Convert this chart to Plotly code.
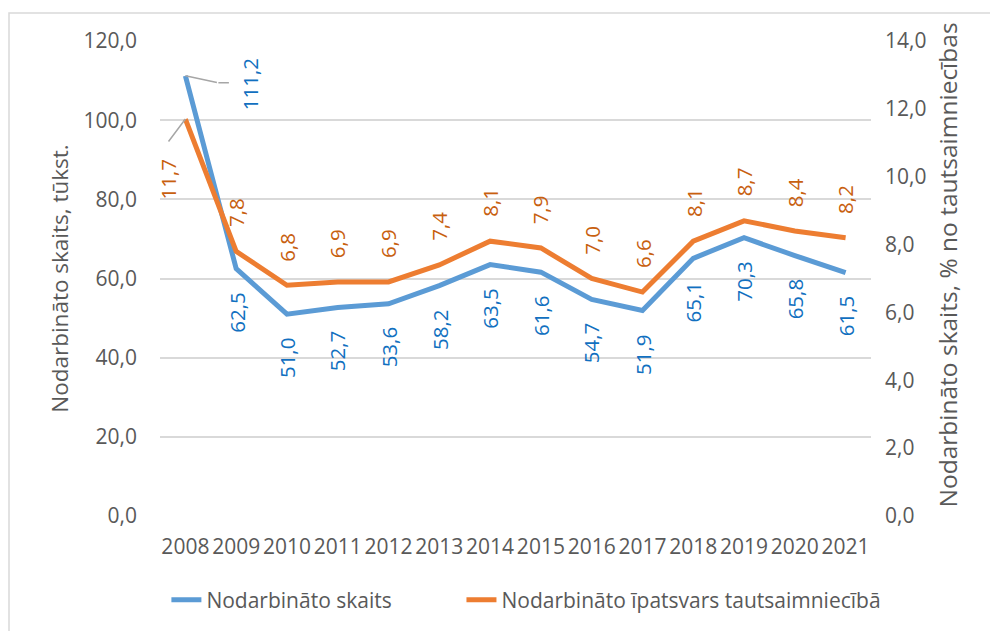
import plotly.graph_objects as go

years = ['2008', '2009', '2010', '2011', '2012', '2013', '2014',
         '2015', '2016', '2017', '2018', '2019', '2020', '2021']
employed = [111.2, 62.5, 51.0, 52.7, 53.6, 58.2, 63.5, 61.6, 54.7, 51.9, 65.1, 70.3, 65.8, 61.5]
share = [11.7, 7.8, 6.8, 6.9, 6.9, 7.4, 8.1, 7.9, 7.0, 6.6, 8.1, 8.7, 8.4, 8.2]

BLUE = '#5B9BD5'
ORANGE = '#ED7D31'
BLUE_TXT = '#1170C0'
ORANGE_TXT = '#C8600F'
GREY = '#595959'
LEADER = '#A6A6A6'
FONT = 'Open Sans'
LBL = 20.5

# page body adds an 8px offset, so the plot box is placed 8px up/left
L, T, W, H = 152, 33, 711, 475


def fmt(v):
    return f"{v:.1f}".replace('.', ',')


def leader(i, v, yref, ax, ay, xs=0, ys=0):
    fig.add_annotation(x=i, y=v, yref=yref, text='', showarrow=True, ax=ax, ay=ay,
                       xshift=xs, yshift=ys, arrowhead=0, arrowwidth=1.5,
                       arrowcolor=LEADER, standoff=0, startstandoff=0)


fig = go.Figure()
fig.add_trace(go.Scatter(x=years, y=employed, mode='lines', name='Nodarbināto skaits',
                         line=dict(color=BLUE, width=5), legend='legend'))
fig.add_trace(go.Scatter(x=years, y=share, mode='lines', name='Nodarbināto īpatsvars tautsaimniecībā',
                         line=dict(color=ORANGE, width=5), yaxis='y2', legend='legend2'))

# data labels, rotated like in the original (x given as category index)
for i, v in enumerate(employed):
    if i == 0:
        leader(i, v, 'y', 33, 7)
        leader(i, v, 'y', 12, 0, xs=33, ys=-7)
        fig.add_annotation(x=i, y=v, text=fmt(v), textangle=-90, showarrow=False,
                           xshift=64, yshift=-8,
                           font=dict(color=BLUE_TXT, size=LBL, family=FONT))
    else:
        fig.add_annotation(x=i, y=v, text=fmt(v), textangle=-90, showarrow=False,
                           yanchor='top', yshift=-22,
                           font=dict(color=BLUE_TXT, size=LBL, family=FONT))
for i, v in enumerate(share):
    if i == 0:
        leader(i, v, 'y2', -18, 24)
        fig.add_annotation(x=i, y=v, yref='y2', text=fmt(v), textangle=-90, showarrow=False,
                           xshift=-17, yshift=-60,
                           font=dict(color=ORANGE_TXT, size=LBL, family=FONT))
    else:
        fig.add_annotation(x=i, y=v, yref='y2', text=fmt(v), textangle=-90, showarrow=False,
                           yanchor='bottom', yshift=22,
                           font=dict(color=ORANGE_TXT, size=LBL, family=FONT))

# right axis title (placed as annotation to match its vertical offset)
fig.add_annotation(xref='paper', yref='paper', x=(957 - L) / W, y=(T + H - 257) / H,
                   text='Nodarbināto skaits, % no tautsaimniecības', textangle=-90,
                   showarrow=False, font=dict(size=24.5, color=GREY, family=FONT))

# chart frame (only top/left edges are visible in the crop)
fig.add_shape(type='rect', xref='paper', yref='paper',
              x0=(1 - L) / W, x1=1.3, y0=-0.4, y1=(T + H - 5) / H,
              line=dict(color='#D9D9D9', width=1.5), layer='below')

fig.update_layout(
    width=998, height=631,
    margin=dict(l=L, r=998 - L - W, t=T, b=631 - T - H),
    paper_bgcolor='white', plot_bgcolor='white',
    separators=', ',
    font=dict(family=FONT, color=GREY, size=21),
    showlegend=True,
    legend=dict(orientation='h', x=0.009, xanchor='left', y=-0.177, yanchor='middle',
                font=dict(size=21, color=GREY)),
    legend2=dict(orientation='h', x=0.424, xanchor='left', y=-0.177, yanchor='middle',
                 font=dict(size=21, color=GREY)),
    xaxis=dict(type='category', range=[-0.5, 13.5], showgrid=False, showline=False, ticks='',
               tickfont=dict(size=21, color=GREY), ticklabelstandoff=16, tickangle=0,
               automargin=False),
    yaxis=dict(range=[0, 120], dtick=20, tickformat='.1f', showgrid=True, gridcolor='#D9D9D9',
               gridwidth=1.5, zeroline=False, showline=False, ticklabelstandoff=22,
               automargin=False,
               title=dict(text='Nodarbināto skaits, tūkst.', standoff=8, font=dict(size=22.5, color=GREY))),
    yaxis2=dict(range=[0, 14], dtick=2, tickformat='.1f', overlaying='y', side='right',
                showgrid=False, zeroline=False, showline=False, ticklabelstandoff=13,
                automargin=False),
)

fig.write_html("out.html")
